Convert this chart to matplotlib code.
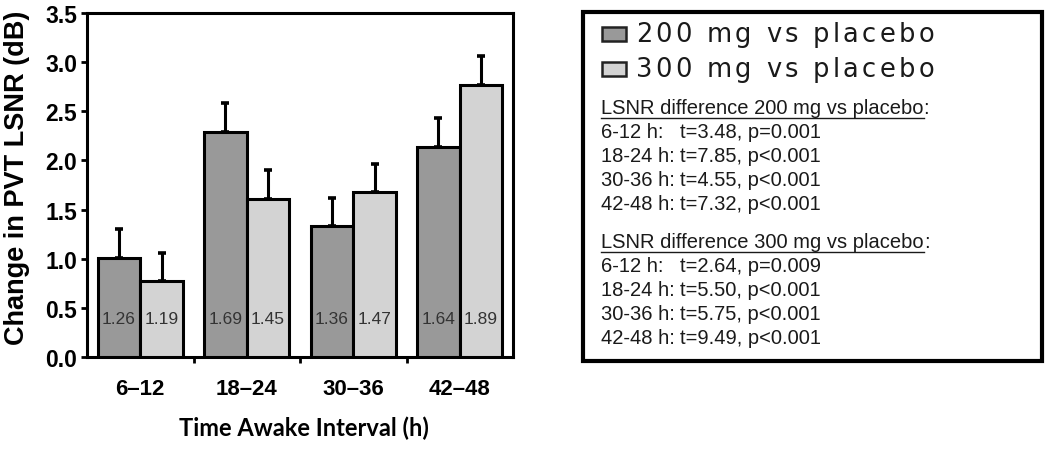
import matplotlib
matplotlib.use("Agg")
import matplotlib.pyplot as plt
import numpy as np
from matplotlib.patches import Rectangle
from matplotlib.lines import Line2D
from matplotlib import font_manager
from matplotlib.ft2font import FT2Font

categories = ["6–12", "18–24", "30–36", "42–48"]
series_names = ["200 mg vs placebo", "300 mg vs placebo"]
vals_200 = [1.01, 2.29, 1.33, 2.14]
vals_300 = [0.77, 1.61, 1.68, 2.77]
err_200 = [0.29, 0.29, 0.29, 0.29]
err_300 = [0.29, 0.29, 0.28, 0.29]
inbar_200 = ["1.26", "1.69", "1.36", "1.64"]
inbar_300 = ["1.19", "1.45", "1.47", "1.89"]
stats_200 = [("6-12 h:", "t=3.48, p=0.001"), ("18-24 h:", "t=7.85, p<0.001"),
             ("30-36 h:", "t=4.55, p<0.001"), ("42-48 h:", "t=7.32, p<0.001")]
stats_300 = [("6-12 h:", "t=2.64, p=0.009"), ("18-24 h:", "t=5.50, p<0.001"),
             ("30-36 h:", "t=5.75, p<0.001"), ("42-48 h:", "t=9.49, p<0.001")]

C_DARK = "#999999"
C_LIGHT = "#d3d3d3"
TXT = "#1a1a1a"
W, H = 1050, 452
ARIAL = "Liberation Sans"
CAL = "Lato"
WIDE = "DejaVu Sans"

fig = plt.figure(figsize=(10.5, 4.52), dpi=100)
ax = fig.add_axes([87 / W, 1 - 358 / H, (513 - 87) / W, (358 - 14) / H])

x = np.arange(len(categories))
bw = 0.4
ekw = dict(elinewidth=2.2, capsize=3.2, capthick=2.6, ecolor="black")
ax.bar(x - bw / 2, vals_200, bw, color=C_DARK, edgecolor="black", linewidth=2.2,
       yerr=[np.zeros(4), err_200], error_kw=ekw, zorder=3)
ax.bar(x + bw / 2, vals_300, bw, color=C_LIGHT, edgecolor="black", linewidth=2.2,
       yerr=[np.zeros(4), err_300], error_kw=ekw, zorder=3)
for i in range(len(categories)):
    ax.text(x[i] - bw / 2, 0.39, inbar_200[i], ha="center", va="center",
            fontsize=12.5, color="#333333", family=ARIAL, zorder=4)
    ax.text(x[i] + bw / 2, 0.39, inbar_300[i], ha="center", va="center",
            fontsize=12.5, color="#333333", family=ARIAL, zorder=4)

ax.set_xlim(-0.5, len(categories) - 0.5)
ax.set_ylim(0, 3.5)
yt = np.arange(0, 3.51, 0.5)
ax.set_yticks(yt)
ax.set_yticklabels([f"{v:.1f}" for v in yt], fontsize=16.5, fontweight="bold", family=ARIAL)
ax.set_xticks(x)
ax.set_xticklabels(categories, fontsize=16, fontweight="bold", family=ARIAL)
ax.tick_params(axis="x", length=0, pad=15)
ax.set_xticks(np.arange(0.5, len(categories) - 0.5, 1), minor=True)
ax.tick_params(axis="x", which="minor", length=4, width=2, direction="out")
ax.tick_params(axis="y", length=4, width=2, direction="out", pad=3)
for s in ax.spines.values():
    s.set_linewidth(2.2)

fig.text(17 / W, 1 - 178 / H, "Change in PVT LSNR (dB)", rotation=90, ha="center",
         va="center", fontsize=19.5, fontweight="bold", family=ARIAL, color="black")
fig.text(304 / W, 1 - 428 / H, "Time Awake Interval (h)", ha="center",
         va="center", fontsize=17, fontweight="bold", family=CAL, color="black")

# legend / annotation box
fig.patches.append(Rectangle((583 / W, 1 - 362 / H), (1042 - 583) / W, (362 - 13) / H,
                             transform=fig.transFigure, fill=False, linewidth=3,
                             edgecolor="black"))

leg_colors = [C_DARK, C_LIGHT]
leg_patch_y = [(28, 42), (63, 77)]
leg_base = [42, 77]
leg_size = 18.5
fpath = font_manager.findfont(font_manager.FontProperties(family=WIDE))
ft = FT2Font(fpath)
ft.set_size(leg_size, 100)

def adv(ch):
    g = ft.load_char(ord(ch))
    return g.linearHoriAdvance / 65536.0

for j, name in enumerate(series_names):
    y0, y1 = leg_patch_y[j]
    fig.patches.append(Rectangle((602 / W, 1 - y1 / H), 24 / W, (y1 - y0) / H,
                                 transform=fig.transFigure, facecolor=leg_colors[j],
                                 edgecolor="#222222", linewidth=1.8))
    natural = sum(adv(c) for c in name)
    track = (298 - natural) / (len(name) - 1)
    xpos = 636.0
    for c in name:
        if c != " ":
            fig.text(xpos / W, 1 - leg_base[j] / H, c, fontsize=leg_size, family=WIDE,
                     color=TXT, ha="left", va="baseline")
        xpos += adv(c) + track

fs = 14.5
def block(y0, title, rows):
    t = fig.text(601 / W, 1 - y0 / H, title, fontsize=fs, family=ARIAL,
                 color=TXT, va="center", ha="left")
    fig.canvas.draw()
    bb = t.get_window_extent()
    fig.add_artist(Line2D([bb.x0 / W, bb.x1 / W], [(bb.y0 - 0.5) / H, (bb.y0 - 0.5) / H],
                          transform=fig.transFigure, color=TXT, linewidth=1))
    fig.text(bb.x1 / W, 1 - y0 / H, ":", fontsize=fs, family=ARIAL,
             color=TXT, va="center", ha="left")
    for k, (a, b) in enumerate(rows):
        yy = 1 - (y0 + 24 * (k + 1)) / H
        fig.text(601 / W, yy, a, fontsize=fs, family=ARIAL,
                 color=TXT, va="center", ha="left")
        fig.text(680 / W, yy, b, fontsize=fs, family=ARIAL,
                 color=TXT, va="center", ha="left")

block(109, "LSNR difference 200 mg vs placebo", stats_200)
block(243, "LSNR difference 300 mg vs placebo", stats_300)

fig.savefig("out.png", dpi=100)
